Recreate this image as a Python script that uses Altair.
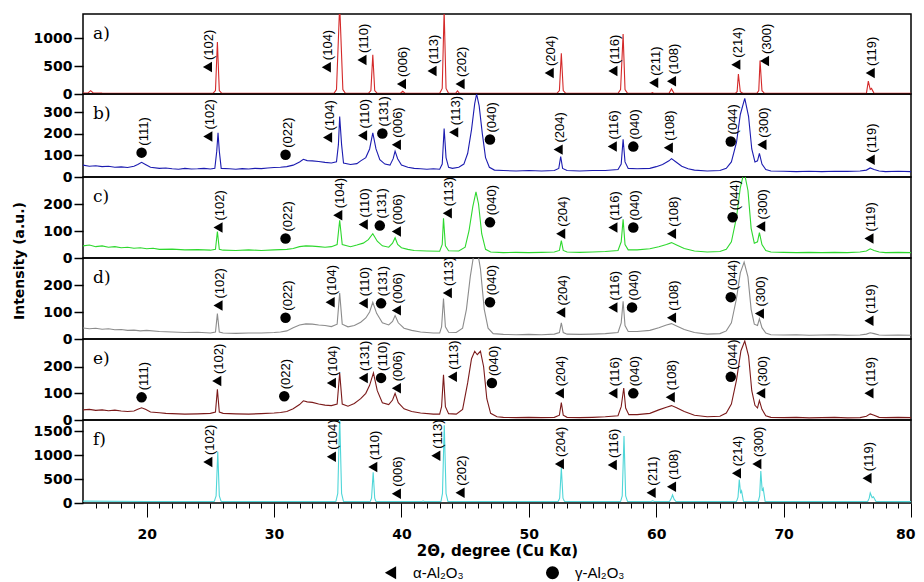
import altair as alt
import pandas as pd

ALPHA = "α-Al₂O₃"
GAMMA = "γ-Al₂O₃"

# ---------------- series (2θ, intensity) ----------------
series_a = [(15, 15), (15.4, 20), (15.6, 60), (15.8, 20), (16.5, 15), (20, 12), (25.2, 12), (25.4, 60),
            (25.55, 930), (25.7, 60), (25.9, 12), (34.7, 12), (34.9, 80), (35.15, 1600), (35.4, 80),
            (35.6, 12), (37.4, 12), (37.6, 60), (37.75, 700), (37.9, 60), (38.1, 12), (39.9, 12),
            (40.1, 50), (40.3, 12), (43.0, 12), (43.2, 100), (43.35, 1500), (43.5, 100), (43.7, 12),
            (44.25, 12), (44.4, 55), (44.55, 12), (52.2, 12), (52.4, 60), (52.55, 730), (52.7, 60),
            (52.9, 12), (57.0, 12), (57.2, 80), (57.4, 1070), (57.55, 80), (57.75, 12), (59.6, 12),
            (59.7, 25), (59.8, 12), (61.0, 12), (61.2, 90), (61.4, 12), (66.2, 12), (66.35, 40),
            (66.45, 355), (66.6, 40), (66.8, 12), (67.9, 12), (68.05, 60), (68.15, 600), (68.3, 60),
            (68.5, 12), (76.5, 12), (76.65, 230), (76.8, 80), (76.9, 100), (77.1, 12), (80, 12)]

series_b = [(15, 55), (15.5, 50), (16, 52), (16.5, 48), (17, 50), (17.5, 45), (18, 47), (18.5, 44), (19, 50),
            (19.3, 58), (19.6, 68), (19.9, 58), (20.3, 45), (21, 40), (21.5, 42), (22, 38), (22.5, 36),
            (23, 40), (23.5, 37), (24, 38), (24.5, 40), (25, 37), (25.35, 40), (25.5, 120), (25.6, 205),
            (25.7, 120), (25.85, 40), (26.5, 38), (27, 36), (27.5, 39), (28, 37), (28.5, 40), (29, 39),
            (29.5, 42), (30, 44), (30.5, 45), (31, 48), (31.5, 55), (32, 70), (32.3, 82), (32.6, 76),
            (33, 75), (33.5, 72), (34, 68), (34.5, 65), (34.9, 70), (35.05, 150), (35.15, 280),
            (35.3, 150), (35.45, 65), (36, 58), (36.5, 62), (36.8, 75), (37.2, 90), (37.5, 130),
            (37.75, 205), (38, 130), (38.3, 80), (38.7, 60), (39.1, 55), (39.35, 85), (39.5, 120),
            (39.7, 85), (40, 55), (40.5, 45), (41, 40), (41.5, 38), (42, 36), (42.5, 38), (43, 36),
            (43.2, 60), (43.35, 225), (43.5, 90), (43.7, 45), (44, 40), (44.5, 45), (44.9, 60),
            (45.2, 110), (45.5, 220), (45.75, 340), (45.9, 385), (46.1, 330), (46.35, 200), (46.6, 90),
            (46.9, 45), (47.3, 32), (48, 30), (49, 28), (50, 30), (51, 28), (52, 30), (52.35, 40),
            (52.5, 95), (52.65, 40), (53, 30), (54, 28), (55, 30), (56, 30), (57, 35), (57.25, 60),
            (57.4, 175), (57.55, 70), (57.8, 40), (58.5, 38), (59.5, 40), (60, 48), (60.5, 58),
            (61, 75), (61.2, 85), (61.5, 72), (62, 50), (62.5, 38), (63, 32), (64, 28), (65, 30),
            (65.5, 40), (65.9, 70), (66.3, 160), (66.6, 290), (66.95, 365), (67.25, 280), (67.5, 130),
            (67.75, 70), (67.95, 75), (68.1, 110), (68.3, 60), (68.6, 35), (69, 28), (70, 27), (71, 25),
            (72, 27), (73, 25), (74, 27), (75, 26), (76, 28), (76.5, 32), (76.8, 42), (77.1, 35),
            (77.5, 28), (78, 25), (79, 27), (80, 25)]

series_c = [(15, 45), (15.5, 48), (16, 42), (16.5, 45), (17, 40), (17.5, 42), (18, 38), (18.5, 40), (19, 36),
            (19.5, 38), (20, 34), (20.5, 36), (21, 32), (22, 33), (23, 30), (24, 31), (25, 29), (25.4, 32),
            (25.55, 98), (25.7, 32), (26, 29), (27, 28), (28, 30), (29, 28), (30, 30), (31, 32),
            (31.5, 35), (32, 42), (32.5, 45), (33, 44), (33.5, 42), (34, 40), (34.5, 42), (34.95, 50),
            (35.15, 140), (35.35, 50), (36, 42), (36.5, 48), (37, 55), (37.4, 68), (37.75, 90),
            (38.1, 62), (38.5, 45), (39, 40), (39.3, 55), (39.5, 75), (39.7, 50), (40, 38), (40.5, 32),
            (41, 28), (42, 26), (43, 25), (43.2, 50), (43.3, 147), (43.45, 45), (43.7, 27), (44.5, 26),
            (45, 40), (45.3, 100), (45.6, 190), (45.85, 245), (46.05, 200), (46.3, 90), (46.6, 32),
            (47, 22), (48, 20), (49, 21), (50, 20), (51, 21), (52, 22), (52.4, 28), (52.55, 64),
            (52.7, 28), (53, 22), (54, 21), (55, 22), (56, 24), (57, 28), (57.25, 60), (57.4, 143),
            (57.55, 50), (57.8, 30), (58.5, 30), (59.5, 34), (60.2, 42), (60.8, 50), (61.2, 57),
            (61.6, 48), (62.2, 35), (63, 26), (64, 22), (65, 24), (65.5, 32), (65.9, 60), (66.3, 150),
            (66.6, 260), (66.9, 320), (67.2, 250), (67.45, 110), (67.7, 55), (67.95, 60), (68.1, 94),
            (68.3, 50), (68.6, 28), (69, 22), (70, 21), (71, 20), (72, 21), (73, 20), (74, 21), (75, 20),
            (76, 22), (76.5, 26), (76.8, 34), (77.1, 28), (77.5, 22), (78, 20), (79, 21), (80, 20)]

series_d = [(15, 41), (15.5, 38), (16, 40), (16.5, 36), (17, 38), (17.5, 34), (18, 35), (18.5, 32), (19, 33),
            (19.5, 30), (20, 32), (21, 28), (22, 26), (23, 24), (24, 25), (25, 22), (25.4, 26),
            (25.55, 94), (25.7, 26), (26, 22), (27, 21), (28, 22), (29, 22), (30, 24), (30.5, 26),
            (31, 30), (31.5, 42), (32, 52), (32.5, 56), (33, 55), (33.5, 52), (34, 50), (34.5, 46),
            (34.95, 55), (35.15, 170), (35.35, 55), (35.8, 45), (36.3, 50), (36.8, 62), (37.2, 78),
            (37.5, 100), (37.75, 136), (38.05, 95), (38.5, 60), (39, 52), (39.3, 65), (39.5, 87),
            (39.75, 60), (40.2, 40), (40.8, 32), (41.5, 26), (42.5, 22), (43, 22), (43.15, 45),
            (43.3, 150), (43.45, 45), (43.7, 25), (44.3, 24), (44.8, 40), (45.1, 110), (45.4, 230),
            (45.7, 320), (45.95, 330), (46.2, 260), (46.5, 110), (46.8, 40), (47.2, 20), (48, 17),
            (49, 16), (50, 17), (51, 16), (52, 18), (52.4, 24), (52.55, 60), (52.7, 24), (53, 18),
            (54, 17), (55, 18), (56, 20), (57, 24), (57.25, 60), (57.4, 140), (57.55, 50), (57.8, 28),
            (58.5, 28), (59.5, 32), (60.2, 42), (60.8, 52), (61.2, 57), (61.6, 48), (62.2, 35), (63, 24),
            (64, 18), (65, 20), (65.5, 30), (65.9, 60), (66.3, 150), (66.6, 245), (66.9, 285),
            (67.2, 230), (67.45, 110), (67.7, 55), (67.95, 50), (68.1, 75), (68.3, 42), (68.6, 22),
            (69, 16), (70, 15), (71, 16), (72, 14), (73, 15), (74, 16), (75, 14), (76, 15), (76.5, 18),
            (76.8, 23), (77.1, 20), (77.5, 15), (78, 14), (79, 15), (80, 14)]

series_e = [(15, 38), (15.5, 40), (16, 36), (16.5, 38), (17, 35), (17.5, 37), (18, 34), (18.5, 32), (19, 34),
            (19.3, 40), (19.6, 46), (19.9, 40), (20.3, 30), (21, 27), (21.5, 25), (22, 24), (23, 22),
            (24, 23), (25, 25), (25.4, 30), (25.55, 115), (25.7, 30), (26, 25), (27, 23), (28, 22),
            (29, 24), (30, 26), (30.5, 28), (31, 32), (31.5, 42), (32, 58), (32.3, 72), (32.6, 68),
            (33, 66), (33.5, 60), (34, 56), (34.5, 54), (34.95, 60), (35.15, 177), (35.35, 60),
            (35.8, 52), (36.3, 62), (36.8, 80), (37.2, 100), (37.5, 130), (37.8, 177), (38.1, 110),
            (38.5, 65), (39, 58), (39.3, 75), (39.5, 100), (39.75, 65), (40.2, 42), (40.8, 32),
            (41.5, 26), (42.5, 22), (43, 22), (43.15, 50), (43.3, 170), (43.45, 50), (43.7, 24),
            (44.3, 22), (44.8, 40), (45.2, 140), (45.5, 230), (45.75, 258), (45.95, 245), (46.2, 258),
            (46.45, 200), (46.7, 80), (47, 25), (47.5, 12), (48, 10), (49, 9), (50, 10), (51, 9),
            (52, 10), (52.4, 18), (52.55, 65), (52.7, 18), (53, 10), (54, 9), (55, 10), (56, 12),
            (57, 16), (57.25, 50), (57.45, 120), (57.6, 45), (57.85, 20), (58.5, 20), (59.5, 25),
            (60.2, 38), (60.8, 48), (61.2, 54), (61.6, 46), (62.2, 32), (63, 18), (64, 12), (65, 14),
            (65.5, 26), (65.9, 60), (66.3, 150), (66.65, 260), (66.95, 296), (67.25, 240), (67.5, 110),
            (67.75, 55), (67.95, 45), (68.1, 73), (68.3, 40), (68.6, 16), (69, 10), (70, 9), (71, 10),
            (72, 8), (73, 9), (74, 10), (75, 8), (76, 9), (76.5, 14), (76.8, 23), (77.1, 18), (77.5, 10),
            (78, 9), (79, 10), (80, 9)]

series_f = [(15, 40), (20, 30), (25.3, 30), (25.45, 150), (25.58, 1070), (25.7, 150), (25.85, 30),
            (34.85, 30), (35.0, 200), (35.15, 1800), (35.3, 200), (35.45, 30), (37.55, 30), (37.65, 100),
            (37.78, 640), (37.9, 100), (38.0, 30), (41.6, 30), (41.7, 40), (41.8, 30), (43.1, 30),
            (43.22, 200), (43.36, 1620), (43.5, 200), (43.65, 30), (52.3, 30), (52.42, 100),
            (52.55, 730), (52.68, 100), (52.8, 30), (57.2, 30), (57.33, 150), (57.47, 1395),
            (57.6, 150), (57.75, 30), (59.6, 30), (59.72, 45), (59.85, 30), (61.05, 30), (61.2, 110),
            (61.28, 170), (61.4, 80), (61.55, 30), (66.3, 30), (66.42, 120), (66.52, 490), (66.62, 200),
            (66.7, 250), (66.85, 30), (68.0, 30), (68.12, 150), (68.21, 665), (68.32, 250), (68.4, 300),
            (68.55, 30), (76.6, 30), (76.72, 100), (76.8, 210), (76.95, 110), (77.05, 130), (77.25, 30),
            (80, 28)]

# ---------------- peak markers (2θ, intensity, label, phase) ----------------
A, G = ALPHA, GAMMA
ann_a = [(24.77, 482, "(102)", A), (34.1, 480, "(104)", A), (36.9, 607, "(110)", A), (40.0, 180, "(006)", A),
         (42.4, 410, "(113)", A), (44.6, 180, "(202)", A), (51.6, 375, "(204)", A), (56.6, 410, "(116)", A),
         (59.8, 200, "(211)", A), (61.2, 230, "(108)", A), (66.25, 525, "(214)", A), (68.5, 590, "(300)", A),
         (76.8, 375, "(119)", A)]
ann_b = [(19.6, 113, "(111)", G), (24.8, 188, "(102)", A), (30.9, 103, "(022)", G), (34.2, 183, "(104)", A),
         (36.95, 193, "(110)", A), (38.5, 202, "(131)", G), (39.6, 150, "(006)", A), (44.1, 207, "(113)", A),
         (46.95, 174, "(040)", G), (52.3, 127, "(204)", A), (56.55, 141, "(116)", A), (58.2, 141, "(040)", G),
         (60.95, 136, "(108)", A), (65.85, 165, "(044)", G), (68.3, 150, "(300)", A), (76.8, 80, "(119)", A)]
ann_c = [(25.6, 113, "(102)", A), (30.9, 72, "(022)", G), (35.0, 158, "(104)", A), (37.0, 124, "(110)", A),
         (38.3, 120, "(131)", G), (39.6, 98, "(006)", A), (43.6, 166, "(113)", A), (46.95, 132, "(040)", G),
         (52.5, 90, "(204)", A), (56.6, 113, "(116)", A), (58.2, 113, "(040)", G), (61.2, 90, "(108)", A),
         (66.0, 151, "(044)", G), (68.2, 117, "(300)", A), (76.7, 72, "(119)", A)]
ann_d = [(25.6, 124, "(102)", A), (30.9, 79, "(022)", G), (34.4, 136, "(104)", A), (37.0, 132, "(110)", A),
         (38.4, 132, "(131)", G), (39.6, 106, "(006)", A), (43.6, 170, "(113)", A), (46.95, 136, "(040)", G),
         (52.5, 98, "(204)", A), (56.6, 117, "(116)", A), (58.1, 117, "(040)", G), (61.2, 79, "(108)", A),
         (65.85, 155, "(044)", G), (68.1, 94, "(300)", A), (76.7, 68, "(119)", A)]
ann_e = [(19.6, 85, "(111)", G), (25.5, 146, "(102)", A), (30.8, 89, "(022)", G), (34.5, 139, "(104)", A),
         (37.0, 158, "(131)", A), (38.4, 158, "(110)", G), (39.6, 119, "(006)", A), (44.0, 162, "(113)", A),
         (47.1, 139, "(040)", G), (52.4, 100, "(204)", A), (56.6, 100, "(116)", A), (58.2, 100, "(040)", G),
         (61.1, 85, "(108)", A), (65.85, 162, "(044)", G), (68.2, 100, "(300)", A), (76.7, 100, "(119)", A)]
ann_f = [(24.8, 855, "(102)", A), (34.5, 965, "(104)", A), (37.75, 750, "(110)", A), (39.6, 195, "(006)", A),
         (42.7, 985, "(113)", A), (44.6, 215, "(202)", A), (52.4, 815, "(204)", A), (56.55, 790, "(116)", A),
         (59.6, 215, "(211)", A), (61.2, 340, "(108)", A), (66.3, 620, "(214)", A), (67.9, 815, "(300)", A),
         (76.55, 515, "(119)", A)]

letters = ["a)", "b)", "c)", "d)", "e)", "f)"]
colors = ["#d42a2a", "#1c1cb0", "#2ed82e", "#8c8c8c", "#7b1a1a", "#4fd6d8"]
y_max = [1430, 385, 300, 300, 304, 1730]
y_ticks = [[0, 500, 1000], [0, 100, 200, 300], [0, 100, 200], [0, 100, 200], [0, 100, 200],
           [0, 500, 1000, 1500]]
heights = [80, 83, 81, 81, 81, 83]
x_ticks = list(range(16, 81))
y_title = "Intensity (a.u.)"

all_series = [series_a, series_b, series_c, series_d, series_e, series_f]
all_ann = [ann_a, ann_b, ann_c, ann_d, ann_e, ann_f]

W = 828
TICK_FONT = "DejaVu Sans"


def make_panel(i):
    last = i == 5
    line_df = pd.DataFrame(all_series[i], columns=["x", "y"])
    ann_df = pd.DataFrame(all_ann[i], columns=["x", "y", "label", "phase"])

    if last:
        x_axis = alt.Axis(
            values=x_ticks, format="d",
            labelExpr="datum.value % 10 === 0 ? datum.label : ''",
            tickSize={"condition": {"test": "datum.value % 10 === 0", "value": 14}, "value": 5},
            tickColor="black", tickWidth=1, labelOverlap=False, labelFlush=True, labelFlushOffset=4,
            labelFont=TICK_FONT, labelFontSize=14, labelFontWeight="bold", labelColor="black",
            labelPadding=10, domain=False, grid=False,
            title="2Θ, degree (Cu Kα)", titleFont=TICK_FONT, titleFontSize=15,
            titleFontWeight="bold", titleColor="black", titlePadding=2,
        )
    else:
        x_axis = None
    x_enc = alt.X("x:Q", scale=alt.Scale(domain=[15, 80], nice=False, zero=False), axis=x_axis)

    y_axis = alt.Axis(
        title=None, values=y_ticks[i], format="d", tickSize=9, tickColor="black", tickWidth=1.5,
        labelFont=TICK_FONT, labelFontSize=14, labelFontWeight="bold", labelColor="black",
        labelPadding=2, domain=False, grid=False,
    )
    y_enc = alt.Y("y:Q", scale=alt.Scale(domain=[0, y_max[i]], nice=False, zero=False), axis=y_axis)

    line = alt.Chart(line_df).mark_line(color=colors[i], strokeWidth=1.1, clip=True)

    if last:
        legend = alt.Legend(
            title=None, orient="none", legendX=300, legendY=145, direction="horizontal",
            symbolSize=170, symbolFillColor="black", symbolStrokeColor="black", symbolStrokeWidth=0,
            labelFont="Liberation Sans", labelFontSize=15, labelColor="black", labelOffset=15,
            columnPadding=81)
    else:
        legend = None
    pts = alt.Chart(ann_df).mark_point(filled=True, color="black", opacity=1, size=110,
                                       strokeWidth=0).encode(
        shape=alt.Shape("phase:N", scale=alt.Scale(domain=[ALPHA, GAMMA],
                                                   range=["triangle-left", "circle"]),
                        legend=legend))

    txt = alt.Chart(ann_df).mark_text(angle=270, align="left", baseline="middle", dx=7, dy=2,
                                      font="Liberation Sans", fontSize=13, color="black").encode(
        text="label:N")

    let = alt.Chart(pd.DataFrame({"t": [letters[i]]})).mark_text(
        align="left", baseline="middle", font="DejaVu Serif", fontSize=17, color="black").encode(
        x=alt.value(10), y=alt.value(20), text="t:N")

    layers = [line, pts, txt, let]
    if i == 2:
        ttl = alt.Chart(pd.DataFrame({"t": [y_title]})).mark_text(
            angle=270, align="center", baseline="middle", font=TICK_FONT, fontSize=14,
            fontWeight="bold", color="black").encode(
            x=alt.value(-63), y=alt.value(84), text="t:N")
        layers.append(ttl)

    return alt.layer(*layers).encode(x=x_enc, y=y_enc).properties(width=W, height=heights[i])


chart = alt.vconcat(*[make_panel(i) for i in range(6)], spacing=0, bounds="flush").resolve_scale(
    x="independent", y="independent", shape="independent"
).properties(
    padding={"left": 4, "top": 5, "right": 0, "bottom": 0},
    background="white",
).configure_view(
    stroke="black", strokeWidth=1.5
)

chart.save("out.html", embed_options={"renderer": "svg", "actions": False})
